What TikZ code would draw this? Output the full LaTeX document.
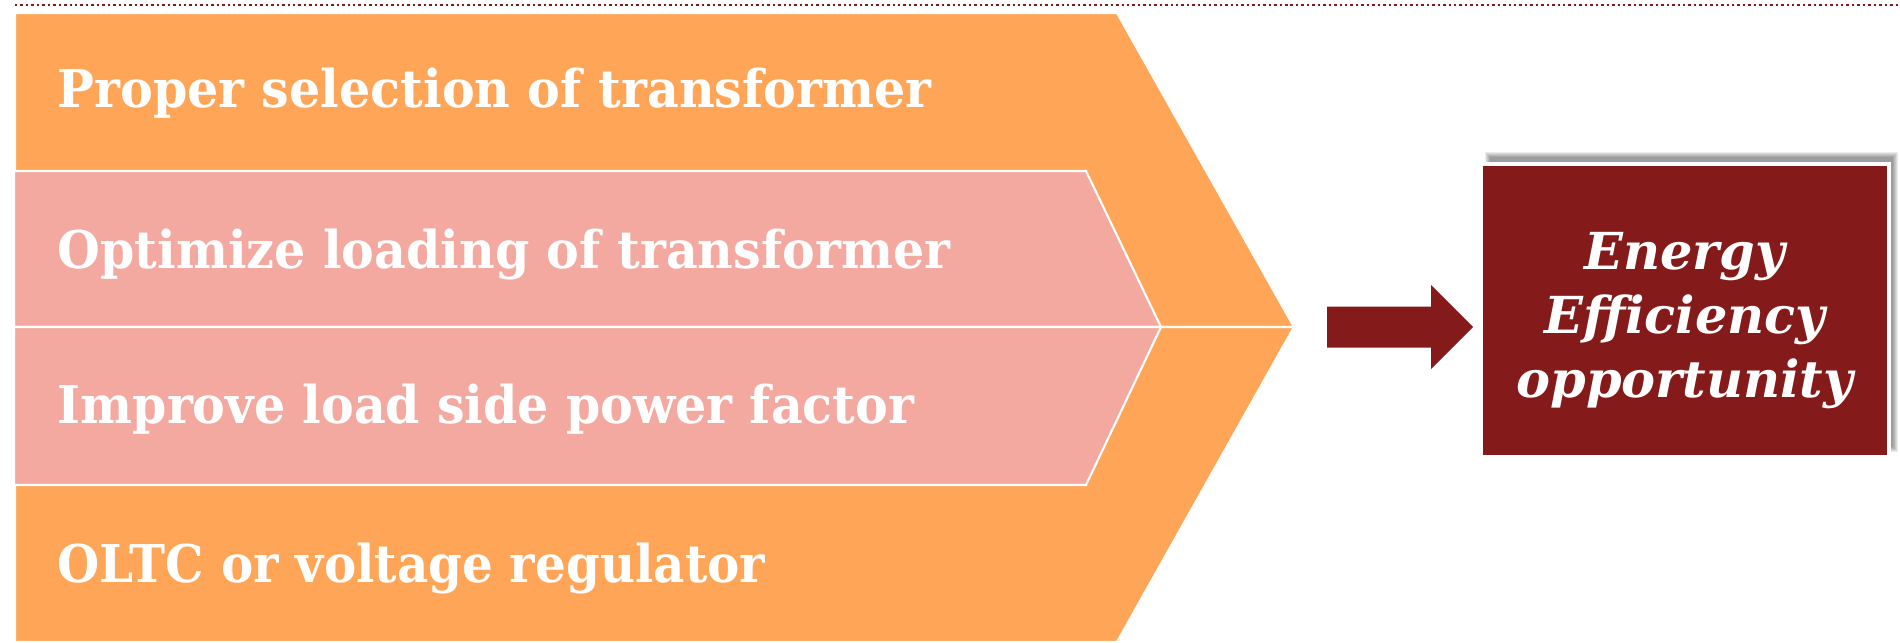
\documentclass[tikz,border=0pt]{standalone}
\usepackage{fontspec}
\setmainfont{DejaVu Serif}
\usetikzlibrary{positioning}
\definecolor{chevorange}{HTML}{FFA557}
\definecolor{chevpink}{HTML}{F3A9A0}
\definecolor{darkmaroon}{HTML}{841A1A}

\tikzset{
    outer chevron/.style={fill=chevorange, draw=white, line width=0.6pt},
    inner chevron/.style={fill=chevpink, draw=white, line width=0.6pt},
    item text/.style={
        anchor=base west,
        inner sep=0pt,
        text=white,
        font=\fontsize{14.8}{18}\selectfont\bfseries
    },
    result box/.style={
        fill=darkmaroon,
        draw=white,
        line width=1.3pt,
        minimum width=4.085cm,
        minimum height=2.935cm,
        inner sep=0pt
    },
    result text/.style={
        align=center,
        inner sep=0pt,
        text=white,
        font=\fontsize{14.5}{18.2}\selectfont\bfseries\itshape
    }
}
\newcommand{\squeeze}[2]{\scalebox{#1}[1]{#2}}

\begin{document}
\begin{tikzpicture}[x=0.01cm, y=-0.01cm]
\useasboundingbox (0,0) rectangle (1900,642);

% dotted rule on top
\draw[darkmaroon, line width=0.7pt, dash pattern=on 0.7pt off 0.85pt] (15,5) -- (1900,5);

% outer chevrons
\draw[outer chevron] (15,13) -- (1117,13) -- (1294,327) -- (15,327) -- cycle;
\draw[outer chevron] (15,327) -- (1294,327) -- (1117,642) -- (15,642) -- cycle;

% inner chevrons
\draw[inner chevron] (14,171) -- (1086,171) -- (1161,327) -- (14,327) -- cycle;
\draw[inner chevron] (14,327) -- (1161,327) -- (1086,485) -- (14,485) -- cycle;

% item labels
\node[item text] (selection) at (57,107) {\squeeze{0.944}{Proper selection of transformer}};
\node[item text] (loading) at (57,268) {\squeeze{0.944}{Optimize loading of transformer}};
\node[item text] (powerfactor) at (57,423) {\squeeze{0.944}{Improve load side power factor}};
\node[item text] (oltc) at (57,582) {\squeeze{0.93}{OLTC or voltage regulator}};

% soft shadow of the result box
\foreach \s in {0,...,5}
    \fill[black, opacity=0.08] (1485+\s,152+\s) rectangle (1898-\s,452-\s);

% result box
\node[result box] (opportunity) at (1684.75,310.75) {};
\node[result text, below=0pt of opportunity.center, anchor=center, yshift=-0.1cm] (opptext)
    {Energy\\Efficiency\\opportunity};

% arrow into the box
\coordinate (tail) at (1327,327);
\coordinate (tip) at (1473,327);
\fill[darkmaroon] (tail) ++(0,-20.5) -- (1431,306.5) -- (1431,285) -- (tip)
    -- (1431,369) -- (1431,347.5) -- ([yshift=-0.205cm]tail) -- cycle;
\end{tikzpicture}
\end{document}
